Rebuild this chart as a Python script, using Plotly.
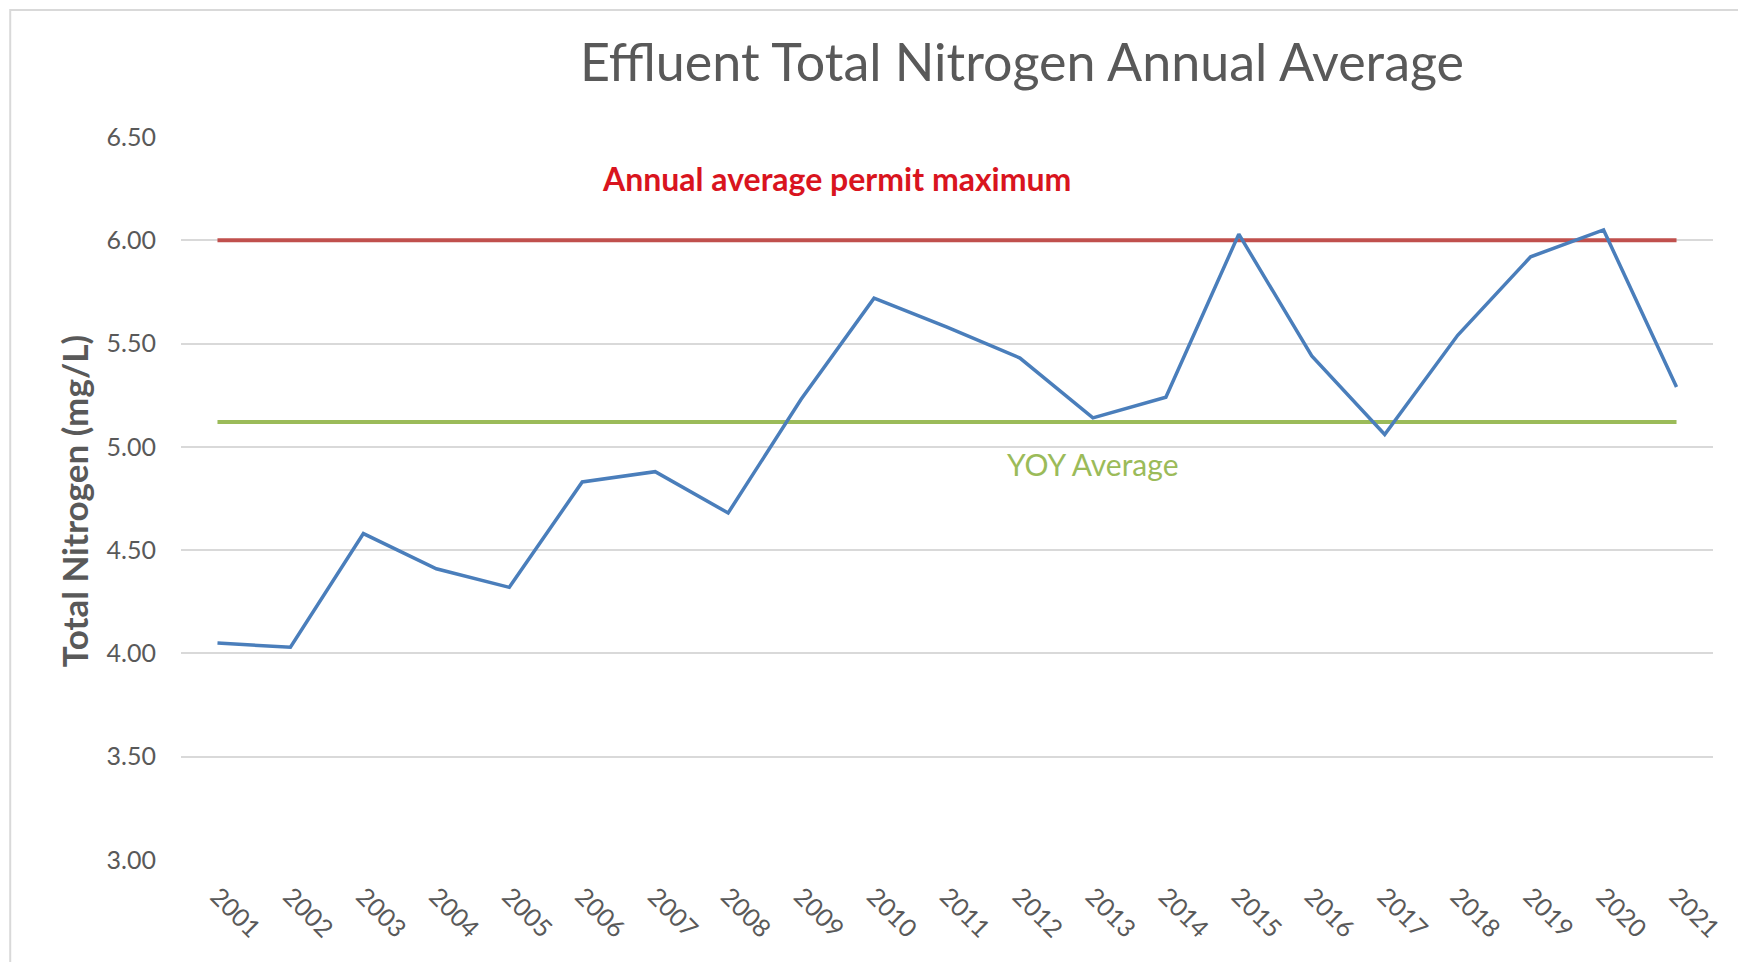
import plotly.graph_objects as go

years = [str(y) for y in range(2001, 2022)]
total_nitrogen = [4.05, 4.03, 4.58, 4.41, 4.32, 4.83, 4.88, 4.68, 5.23, 5.72,
                  5.58, 5.43, 5.14, 5.24, 6.03, 5.44, 5.06, 5.54, 5.92, 6.05, 5.29]
permit_max = 6.00
yoy_average = 5.12
y_ticks = [3.0, 3.5, 4.0, 4.5, 5.0, 5.5, 6.0, 6.5]

FONT = "Lato"
GRAY = "#595959"

fig = go.Figure()
fig.add_trace(go.Scatter(x=years, y=[permit_max] * len(years), mode="lines",
                         line=dict(color="#C0504D", width=4), hoverinfo="skip"))
fig.add_trace(go.Scatter(x=years, y=[yoy_average] * len(years), mode="lines",
                         line=dict(color="#9BBB59", width=4), hoverinfo="skip"))
fig.add_trace(go.Scatter(x=years, y=total_nitrogen, mode="lines",
                         line=dict(color="#4A7EBB", width=3.5)))

L, R, T, B = 181, 23, 137, 102
W, H = 1738, 962
pw, ph = W - L - R, H - T - B

def px_x(x):
    return (x - L) / pw

def px_y(y):
    return (H - B - y) / ph

fig.update_layout(
    width=W, height=H,
    margin=dict(l=L, r=R, t=T, b=B),
    paper_bgcolor="white", plot_bgcolor="white",
    showlegend=False,
    font=dict(family=FONT, color=GRAY),
    title=dict(text="Effluent Total Nitrogen Annual Average",
               x=1022 / W, xanchor="center", xref="container",
               y=1 - 63 / H, yanchor="middle", yref="container",
               font=dict(family=FONT, size=52, color=GRAY)),
    xaxis=dict(type="category", tickangle=45, showgrid=False, showline=False,
               range=[-0.5, len(years) - 0.5],
               tickfont=dict(family=FONT, size=25, color=GRAY),
               ticks="", ticklabelstandoff=16, zeroline=False),
    yaxis=dict(range=[3.0, 6.5], tickvals=y_ticks,
               ticktext=[f"{v:.2f}" for v in y_ticks],
               gridcolor="#D9D9D9", gridwidth=1.5, zeroline=False,
               showline=False, ticks="",
               tickfont=dict(family=FONT, size=25, color=GRAY),
               ticklabelstandoff=24),
    shapes=[dict(type="rect", xref="paper", yref="paper",
                 x0=px_x(10), x1=px_x(1800), y0=px_y(1000), y1=px_y(10),
                 line=dict(color="#D9D9D9", width=2), fillcolor="rgba(0,0,0,0)",
                 layer="below")],
    annotations=[
        dict(text="<b>Total Nitrogen (mg/L)</b>", textangle=-90,
             xref="paper", yref="paper", x=px_x(74), y=px_y(501),
             xanchor="center", yanchor="middle", showarrow=False,
             font=dict(family=FONT, size=35, color=GRAY)),
        dict(text="<b>Annual average permit maximum</b>",
             xref="paper", yref="paper", x=px_x(837), y=px_y(178),
             xanchor="center", yanchor="middle", showarrow=False,
             font=dict(family=FONT, size=32, color="#D9141E")),
        dict(text="YOY Average",
             xref="paper", yref="paper", x=px_x(1094), y=px_y(464),
             xanchor="center", yanchor="middle", showarrow=False,
             font=dict(family=FONT, size=30, color="#9BBB59")),
    ],
)

fig.write_html("out.html", config={"displayModeBar": False},
               post_script="document.body.style.margin='0';document.body.style.overflow='hidden';")
